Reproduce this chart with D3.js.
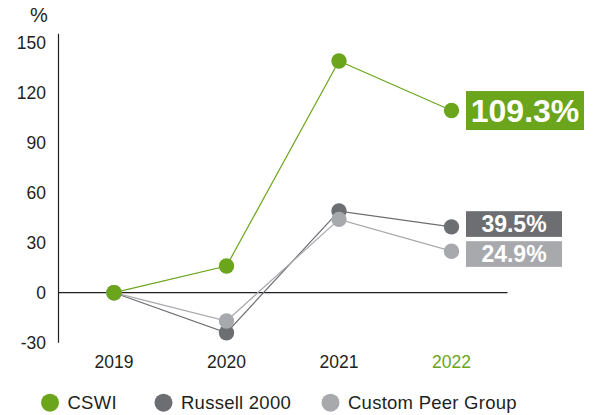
<!DOCTYPE html>
<html><head><meta charset="utf-8">
<script src="https://cdn.jsdelivr.net/npm/d3@7"></script>
<style>
html,body{margin:0;padding:0;background:#fff;}
svg{display:block;font-family:"Liberation Sans",Arial,Helvetica,sans-serif;}
</style></head>
<body>
<svg id="chart" width="593" height="415"></svg>
<script>
const years = ["2019", "2020", "2021", "2022"];
const cswi = [0, 16, 139, 109.3];
const russell = [0, -24, 49, 39.5];
const peer = [0, -17, 44, 24.9];
const yTicks = [-30, 0, 30, 60, 90, 120, 150];
const seriesNames = ["CSWI", "Russell 2000", "Custom Peer Group"];
const endLabels = ["109.3%", "39.5%", "24.9%"];
const colors = ["#6ba51b", "#6d6e72", "#a8a9ad"];
const ink = "#231f20";

const svg = d3.select("#chart");
const x = d3.scalePoint().domain(years).range([114, 451.5]);
const y = d3.scaleLinear().domain([-30, 150]).range([342.7, 42.7]);

// y axis line
svg.append("line").attr("x1", 58.5).attr("x2", 58.5)
  .attr("y1", y(-30)).attr("y2", y(155.3))
  .attr("stroke", ink).attr("stroke-width", 1.2);
// zero line
svg.append("line").attr("x1", 58).attr("x2", 507.5)
  .attr("y1", y(0)).attr("y2", y(0))
  .attr("stroke", ink).attr("stroke-width", 1.2);

// y tick labels
svg.append("g").selectAll("text").data(yTicks).join("text")
  .attr("x", 46).attr("y", d => y(d)).attr("dy", "0.36em")
  .attr("text-anchor", "end").attr("font-size", 17.5).attr("fill", ink)
  .text(d => d);
svg.append("text").attr("x", 39).attr("y", 22).attr("text-anchor", "middle")
  .attr("font-size", 20).attr("fill", ink).text("%");

// x labels
svg.append("g").selectAll("text").data(years).join("text")
  .attr("x", d => x(d)).attr("y", 367.7).attr("text-anchor", "middle")
  .attr("font-size", 17.5).attr("fill", (d, i) => i === years.length - 1 ? colors[0] : ink)
  .text(d => d);

const series = [cswi, russell, peer];
const line = d3.line().x((d, i) => x(years[i])).y(d => y(d));
const order = [1, 2, 0];
order.forEach(s => {
  svg.append("path").datum(series[s]).attr("d", line)
    .attr("fill", "none").attr("stroke", colors[s]).attr("stroke-width", 1.2);
});
order.forEach(s => {
  svg.append("g").selectAll("circle").data(series[s]).join("circle")
    .attr("cx", (d, i) => x(years[i])).attr("cy", d => y(d)).attr("r", 7.7)
    .attr("fill", colors[s]);
});

// end labels
const last = years.length - 1;
const centers = series.map(s => y(s[last]));
// spread the two grey labels so they do not overlap
const minGap = 30;
if (centers[2] - centers[1] < minGap) {
  const mid = (centers[1] + centers[2]) / 2;
  centers[1] = mid - minGap / 2;
  centers[2] = mid + minGap / 2;
}
const boxX = x(years[last]) + 14.5;
const boxW = [118, 96, 96];
const boxH = [39, 25.7, 25.7];
const fs = [32, 23, 23];
series.forEach((s, i) => {
  svg.append("rect").attr("x", boxX).attr("y", centers[i] - boxH[i] / 2)
    .attr("width", boxW[i]).attr("height", boxH[i]).attr("fill", colors[i]);
  svg.append("text").attr("x", boxX + boxW[i] / 2).attr("y", centers[i])
    .attr("dy", "0.36em").attr("text-anchor", "middle")
    .attr("font-size", fs[i]).attr("font-weight", "bold").attr("fill", "#fff")
    .text(endLabels[i]);
});

// legend
const legX = [50, 163.5, 330.5];
const legY = 402.7;
seriesNames.forEach((n, i) => {
  svg.append("circle").attr("cx", legX[i]).attr("cy", legY).attr("r", 9).attr("fill", colors[i]);
  svg.append("text").attr("x", legX[i] + 17.5).attr("y", legY).attr("dy", "0.36em")
    .attr("font-size", 18.5).attr("letter-spacing", 0.25).attr("fill", ink).text(n);
});
</script>
</body></html>
